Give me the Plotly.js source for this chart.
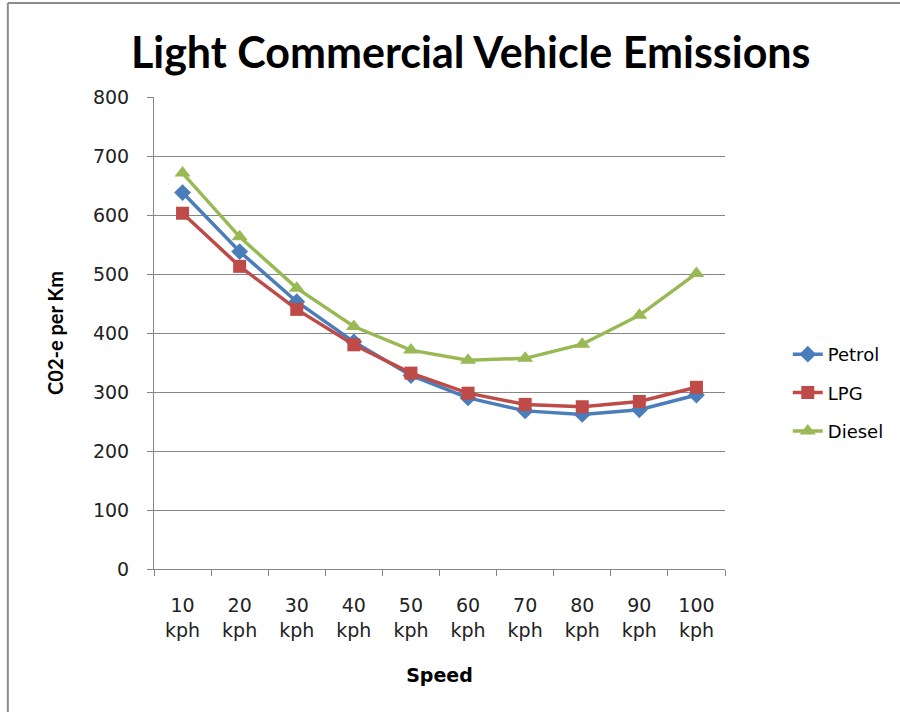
<!DOCTYPE html>
<html>
<head>
<meta charset="utf-8">
<script src="https://cdn.plot.ly/plotly-3.0.1.min.js"></script>
<style>
html,body{margin:0;padding:0;background:#fff;}
#chart{width:900px;height:712px;}
</style>
</head>
<body>
<div id="chart"></div>
<script>
const categories = ["10<br>kph","20<br>kph","30<br>kph","40<br>kph","50<br>kph","60<br>kph","70<br>kph","80<br>kph","90<br>kph","100<br>kph"];
const petrol = [638, 538, 453, 385, 328, 290, 268, 262, 270, 295];
const lpg    = [603, 513, 440, 380, 332, 298, 279, 275, 284, 308];
const diesel = [671, 563, 476, 411, 371, 354, 357, 381, 430, 501];
const yTicks = [0, 100, 200, 300, 400, 500, 600, 700, 800];

const traces = [
  {name:"Petrol", y:petrol, x:categories, type:"scatter", mode:"lines+markers", legendgroup:"a",
   line:{color:"#4a7ebb", width:3.5}, marker:{symbol:"diamond", size:13, color:"#4a7ebb"}},
  {name:"LPG", y:lpg, x:categories, type:"scatter", mode:"lines+markers", legendgroup:"b",
   line:{color:"#be4b48", width:3.5}, marker:{symbol:"square", size:13, color:"#be4b48"}},
  {name:"Diesel", y:diesel, x:categories, type:"scatter", mode:"lines+markers", legendgroup:"c",
   line:{color:"#98b954", width:3.5}, marker:{symbol:"triangle-up", size:14, color:"#98b954"}}
];

const layout = {
  width:900, height:712,
  margin:{l:154, r:174, t:97, b:143},
  paper_bgcolor:"#fff", plot_bgcolor:"#fff",
  title:{text:"<b>Light Commercial Vehicle Emissions</b>", x:0.523, xanchor:"center", y:0.925, yanchor:"middle",
         font:{family:"Lato, sans-serif", size:43, color:"#000"}},
  xaxis:{type:"category", range:[-0.5, 9.5], tickson:"boundaries", ticks:"outside", ticklen:6, tickcolor:"#868686",
         showline:true, linecolor:"#868686", linewidth:1, showgrid:false, zeroline:false,
         ticklabelstandoff:19,
         tickfont:{family:"DejaVu Sans, sans-serif", size:19, color:"#222"},
         title:{text:"<b>Speed</b>", font:{family:"DejaVu Sans, sans-serif", size:19, color:"#000"}, standoff:29}},
  yaxis:{range:[0,800], tickvals:yTicks, ticks:"outside", ticklen:6, tickcolor:"#868686",
         showline:true, linecolor:"#868686", linewidth:1, gridcolor:"#868686", gridwidth:1, zeroline:false,
         ticklabelstandoff:14,
         tickfont:{family:"DejaVu Sans, sans-serif", size:19, color:"#222"},
         title:{text:"<b>C02-e per Km</b>", font:{family:"Lato, sans-serif", size:20, color:"#000"}, standoff:23}},
  legend:{x:1.108, xanchor:"left", y:0.373, yanchor:"middle", tracegroupgap:12,
          font:{family:"DejaVu Sans, sans-serif", size:18, color:"#000"}},
  showlegend:true,
  shapes:[
    {type:"line", xref:"paper", yref:"paper", x0:-0.256, x1:1.4, y0:1.199, y1:1.199, line:{color:"#8c8c8c", width:2}},
    {type:"line", xref:"paper", yref:"paper", x0:-0.256, x1:-0.256, y0:1.199, y1:-0.4, line:{color:"#8c8c8c", width:2}}
  ]
};

Plotly.newPlot("chart", traces, layout, {displayModeBar:false});
</script>
</body>
</html>
